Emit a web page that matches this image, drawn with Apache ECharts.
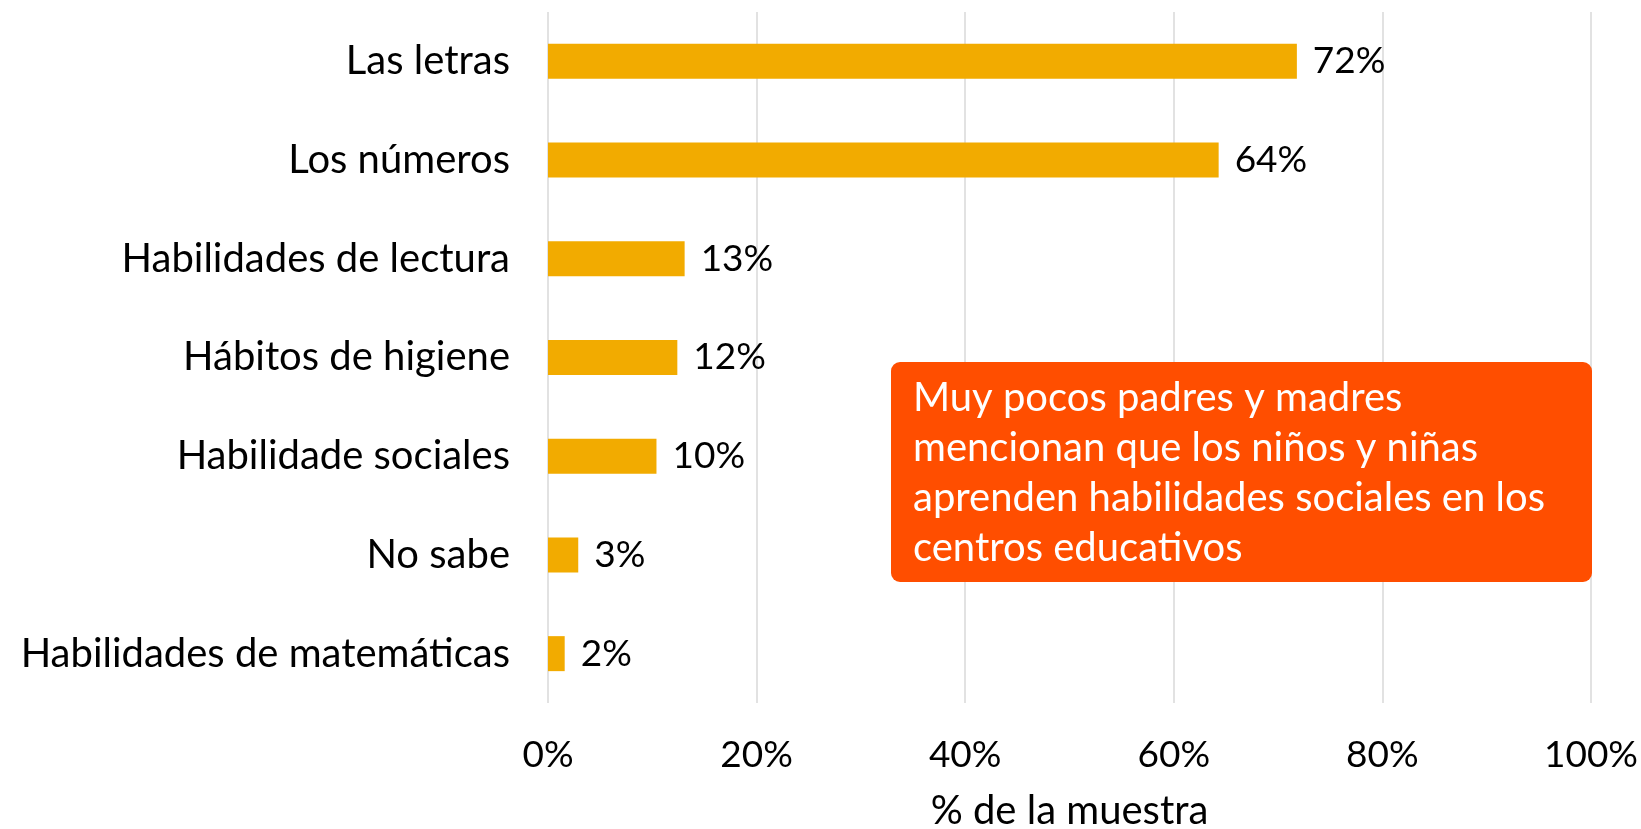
<!DOCTYPE html>
<html>
<head>
<meta charset="utf-8">
<script src="https://cdn.jsdelivr.net/npm/echarts@6/dist/echarts.min.js"></script>
<style>
  html, body { margin: 0; padding: 0; background: #fff; }
  #chart { width: 1641px; height: 829px; }
</style>
</head>
<body>
<div id="chart"></div>
<script>
const categories = [
    'Las letras',
    'Los números',
    'Habilidades de lectura',
    'Hábitos de higiene',
    'Habilidade sociales',
    'No sabe',
    'Habilidades de matemáticas'
];
const values = [71.8, 64.3, 13.1, 12.4, 10.4, 2.9, 1.6];
const xTicks = [0, 20, 40, 60, 80, 100];
const noteLines = [
    'Muy pocos padres y madres',
    'mencionan que los niños y niñas',
    'aprenden habilidades sociales en los',
    'centros educativos'
];

const FONT = 'Lato';
const chart = echarts.init(document.getElementById('chart'));

chart.setOption({
    animation: false,
    textStyle: { fontFamily: FONT },
    grid: { left: 548, right: 50, top: 12, bottom: 126, outerBoundsMode: 'none', containLabel: false },
    xAxis: {
        type: 'value',
        min: xTicks[0],
        max: xTicks[xTicks.length - 1],
        interval: 20,
        name: '% de la muestra',
        nameLocation: 'middle',
        nameGap: 88,
        nameTextStyle: { fontSize: 40, color: '#000', fontFamily: FONT },
        axisLine: { show: false },
        axisTick: { show: false },
        axisLabel: {
            fontSize: 37,
            color: '#000',
            margin: 34,
            formatter: v => v + '%'
        },
        splitLine: { show: true, lineStyle: { color: '#d9d9d9', width: 1.5 } }
    },
    yAxis: {
        type: 'category',
        data: categories,
        inverse: true,
        axisLine: { show: false },
        axisTick: { show: false },
        axisLabel: { fontSize: 40, color: '#000', margin: 38 }
    },
    series: [
        {
            type: 'bar',
            data: values,
            barWidth: 35,
            itemStyle: { color: '#f2ab00' },
            label: {
                show: true,
                position: 'right',
                distance: 16,
                fontSize: 37,
                color: '#000',
                formatter: p => Math.round(p.value) + '%'
            }
        }
    ],
    graphic: [
        {
            type: 'group',
            left: 891,
            top: 362,
            z: 100,
            children: [
                {
                    type: 'rect',
                    z: 100,
                    shape: { x: 0, y: 0, width: 701, height: 220, r: 9 },
                    style: { fill: '#ff4e00' }
                },
                {
                    type: 'text',
                    z: 101,
                    x: 22,
                    y: 11,
                    style: {
                        text: noteLines.join('\n'),
                        fill: '#fff',
                        font: '40px ' + FONT,
                        lineHeight: 50
                    }
                }
            ]
        }
    ]
});
</script>
</body>
</html>
